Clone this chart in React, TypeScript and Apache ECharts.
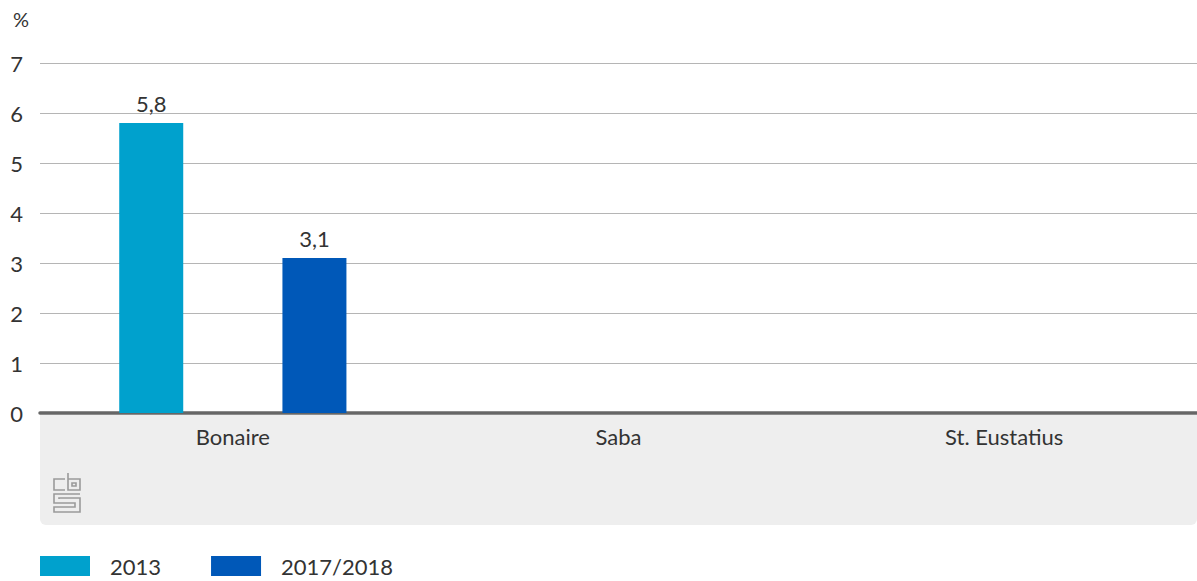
import React, { useEffect, useRef } from "react";
import * as echarts from "echarts";

const categories = ["Bonaire", "Saba", "St. Eustatius"];
const series2013 = [5.8, null, null];
const series20172018 = [3.1, null, null];
const seriesNames = ["2013", "2017/2018"];
const yTicks = { min: 0, max: 7, interval: 1 };

const FONT = "Lato";

const logoPath =
  "M12 7 H1 V18 H12 M15 1 V18 H27 V7 H15 M19 11 H23 V14 H19 Z M27 22 H1 V31 H22 V35 H1 V40 H27 V26 H6 V27";

echarts.graphic.registerShape("cbslogo", (echarts.graphic as any).extendPath(logoPath, {}));

export default function App() {
  const ref = useRef<HTMLDivElement>(null);
  useEffect(() => {
    document.body.style.margin = "0";
    const chart = echarts.init(ref.current!, null, { renderer: "svg" });
    const fmt = (p: any) => String(p.value).replace(".", ",");
    chart.setOption({
      animation: false,
      textStyle: { fontFamily: FONT },
      grid: { left: 40, right: 0, top: 63, bottom: 168 },
      graphic: [
        {
          type: "rect",
          z: 0,
          shape: { x: 40, y: 415, width: 1157, height: 110, r: [0, 0, 6, 6] },
          style: { fill: "#eeeeee" },
        },
        {
          type: "text",
          x: 13,
          y: 9,
          style: { text: "%", font: `20px ${FONT}`, fill: "#333" },
        },
        {
          type: "cbslogo",
          x: 53,
          y: 472,
          style: { fill: "none", stroke: "#9a9a9a", lineWidth: 1.6 },
        } as any,
      ],
      legend: {
        left: 40,
        top: 555,
        padding: 0,
        icon: "rect",
        itemWidth: 50,
        itemHeight: 20,
        itemGap: 50,
        textStyle: { fontSize: 22, lineHeight: 20, color: "#333", fontFamily: FONT, padding: [0, 0, 0, 15] },
        data: seriesNames,
      },
      xAxis: {
        type: "category",
        data: categories,
        axisLine: { lineStyle: { color: "#666", width: 3.5 } },
        axisTick: { show: false },
        axisLabel: { fontSize: 22, color: "#333", margin: 12, fontFamily: FONT },
      },
      yAxis: {
        type: "value",
        min: yTicks.min,
        max: yTicks.max,
        interval: yTicks.interval,
        axisLabel: { fontSize: 22, color: "#333", margin: 17, fontFamily: FONT },
        splitLine: { lineStyle: { color: "#b5b5b5", width: 1 } },
      },
      series: [
        {
          name: seriesNames[0],
          type: "bar",
          data: series2013,
          barWidth: 64,
          barGap: "155%",
          itemStyle: { color: "#00a1cd" },
          label: { show: true, position: "top", fontSize: 22, color: "#333", distance: 9, formatter: fmt },
        },
        {
          name: seriesNames[1],
          type: "bar",
          data: series20172018,
          barWidth: 64,
          itemStyle: { color: "#0058b8" },
          label: { show: true, position: "top", fontSize: 22, color: "#333", distance: 9, formatter: fmt },
        },
      ],
    });
    return () => chart.dispose();
  }, []);
  return <div ref={ref} style={{ width: 1197, height: 581 }} />;
}
